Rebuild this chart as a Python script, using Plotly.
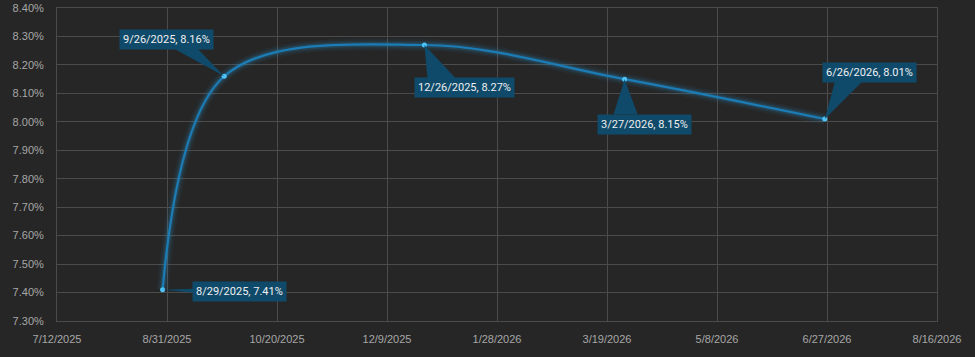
import plotly.graph_objects as go

# ---- data ----
dates = ["2025-08-29", "2025-09-26", "2025-12-26", "2026-03-27", "2026-06-26"]
date_labels = ["8/29/2025", "9/26/2025", "12/26/2025", "3/27/2026", "6/26/2026"]
rates = [7.41, 8.16, 8.27, 8.15, 8.01]

x_range = ["2025-07-12", "2026-08-16"]
y_range = [7.30, 8.40]

# ---- label styling (pixel offsets from each point: box centre, wedge base) ----
label_offsets = [(77, 2), (-58, -37), (40, 43), (20, 45), (45, -46)]  # (dx right, dy down)
wedge_bases = [
    [(31, 1), (31, -3)],
    [(-51, 28), (-27, 28)],
    [(3, -33), (31, -33)],
    [(-11, -35), (13, -35)],
    [(10, 37), (37, 37)],
]  # pixel, y positive up

BG = "#262626"
GRID = "#4b4b4b"
LINE = "#1c7cb5"
BOX = "#0f4a6a"

fig = go.Figure()

# glow layers
for w, a in [(12, 0.05), (8, 0.09), (5, 0.16)]:
    fig.add_trace(go.Scatter(
        x=dates, y=rates, mode="lines",
        line=dict(shape="spline", smoothing=1.0, width=w, color=f"rgba(40,150,220,{a})"),
        hoverinfo="skip", showlegend=False))

fig.add_trace(go.Scatter(
    x=dates, y=rates, mode="lines+markers",
    line=dict(shape="spline", smoothing=1.0, width=2.2, color=LINE),
    marker=dict(size=5, color="#4fc3f7", line=dict(width=0)),
    showlegend=False))

# callout wedges + labels
for d, lab, r, (dx, dy), base in zip(dates, date_labels, rates, label_offsets, wedge_bases):
    (x1, y1), (x2, y2) = base
    fig.add_shape(
        type="path", xref="x", yref="y",
        xsizemode="pixel", ysizemode="pixel", xanchor=d, yanchor=r,
        path=f"M 0 0 L {x1} {y1} L {x2} {y2} Z",
        fillcolor=BOX, line=dict(width=0), layer="above")
    fig.add_annotation(
        x=d, y=r, xref="x", yref="y",
        text=f"{lab}, {r:.2f}%", showarrow=False,
        xshift=dx, yshift=-dy,
        bgcolor=BOX, borderpad=3,
        font=dict(family="Roboto, Liberation Sans, sans-serif", size=11, color="#f0f0f0"))

fig.update_layout(
    width=975, height=357,
    margin=dict(l=57, r=38, t=8, b=36, autoexpand=False),
    paper_bgcolor=BG, plot_bgcolor=BG,
    font=dict(family="Liberation Sans, Arial, sans-serif", size=11, color="#a6a6a6"),
)

fig.update_xaxes(
    type="date", range=x_range, automargin=False,
    tick0=x_range[0], dtick=50 * 86400000, tickformat="%-m/%-d/%Y",
    showgrid=True, gridcolor=GRID, gridwidth=1,
    showline=True, linecolor=GRID, linewidth=1, mirror=True,
    zeroline=False, ticks="", ticklabelstandoff=8,
)
fig.update_yaxes(
    range=y_range, tick0=7.30, dtick=0.10, ticksuffix="%", tickformat=".2f",
    automargin=False,
    showgrid=True, gridcolor=GRID, gridwidth=1,
    showline=True, linecolor=GRID, linewidth=1, mirror=True,
    zeroline=False, ticks="", ticklabelstandoff=10,
)

fig.write_html(
    "out.html",
    config={"displayModeBar": False},
    post_script="document.body.style.margin='0';document.body.style.background='#262626';",
)
